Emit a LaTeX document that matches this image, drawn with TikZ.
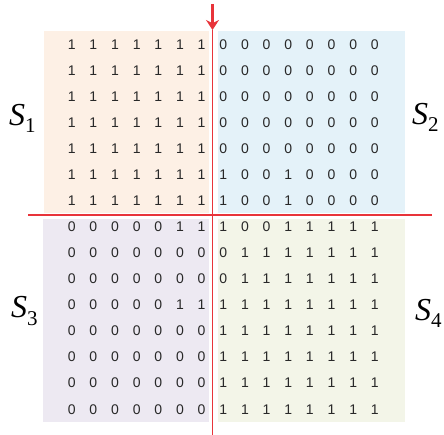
\documentclass[tikz,border=0pt]{standalone}
\usepackage{fontspec}
\setmainfont{Liberation Serif}
\newfontfamily\numfont{Liberation Sans}
\usetikzlibrary{arrows.meta}
\definecolor{qorange}{RGB}{253,240,229}
\definecolor{qblue}{RGB}{228,242,249}
\definecolor{qpurple}{RGB}{237,233,242}
\definecolor{qgreen}{RGB}{243,245,232}
\definecolor{qred}{RGB}{232,52,58}
\definecolor{qdigit}{RGB}{40,40,40}
\newcommand\mySlab[1]{{\fontsize{32}{32}\selectfont\itshape S}\raisebox{-7pt}{\fontsize{21}{21}\selectfont #1}}
\tikzset{
  digit/.style={font=\numfont\fontsize{14}{14}\selectfont, text=qdigit, inner sep=0pt, anchor=center},
  slabel/.style={inner sep=0pt, anchor=base west, text=black},
  redline/.style={draw=qred, line width=1.4pt},
  redarrow/.style={draw=qred, line width=2.6pt, -{Stealth[length=10pt,width=13pt]}}
}
\begin{document}
\begin{tikzpicture}[x=1pt,y=-1pt]
\useasboundingbox (0,0) rectangle (444,435);
% quadrant backgrounds
\fill[qorange] (44,31) rectangle (209,212.7);
\fill[qblue] (218.3,31) rectangle (405,212.7);
\fill[qpurple] (43.3,219.3) rectangle (209,421.7);
\fill[qgreen] (218.3,219.3) rectangle (405,421.7);
% digits
\foreach \row [count=\r from 0] in {
  {1,1,1,1,1,1,1,0,0,0,0,0,0,0,0},
  {1,1,1,1,1,1,1,0,0,0,0,0,0,0,0},
  {1,1,1,1,1,1,1,0,0,0,0,0,0,0,0},
  {1,1,1,1,1,1,1,0,0,0,0,0,0,0,0},
  {1,1,1,1,1,1,1,0,0,0,0,0,0,0,0},
  {1,1,1,1,1,1,1,1,0,0,1,0,0,0,0},
  {1,1,1,1,1,1,1,1,0,0,1,0,0,0,0},
  {0,0,0,0,0,1,1,1,0,0,1,1,1,1,1},
  {0,0,0,0,0,0,0,0,1,1,1,1,1,1,1},
  {0,0,0,0,0,0,0,0,1,1,1,1,1,1,1},
  {0,0,0,0,0,1,1,1,1,1,1,1,1,1,1},
  {0,0,0,0,0,0,0,1,1,1,1,1,1,1,1},
  {0,0,0,0,0,0,0,1,1,1,1,1,1,1,1},
  {0,0,0,0,0,0,0,1,1,1,1,1,1,1,1},
  {0,0,0,0,0,0,0,1,1,1,1,1,1,1,1}} {
  \foreach \v [count=\k from 0] in \row {
    \node[digit] (c-\r-\k) at ({71.7+21.65*\k},{44.5+26.05*\r}) {\v};
  }
}
% red separators
\coordinate (atop) at (212.5,4);
\coordinate (atip) at (212.5,30);
\coordinate (vbot) at (212.5,435);
\coordinate (hl) at (28,215);
\coordinate (hr) at (431.5,215);
\draw[redline] (hl) -- (hr);
\draw[redline] (atip) -- (vbot);
\draw[redarrow] (atop) -- (atip);
% labels
\node[slabel] (s1) at (9,126) {\mySlab{1}};
\node[slabel] (s2) at (412,125) {\mySlab{2}};
\node[slabel] (s3) at (11,318) {\mySlab{3}};
\node[slabel] (s4) at (415,320) {\mySlab{4}};
\end{tikzpicture}
\end{document}
